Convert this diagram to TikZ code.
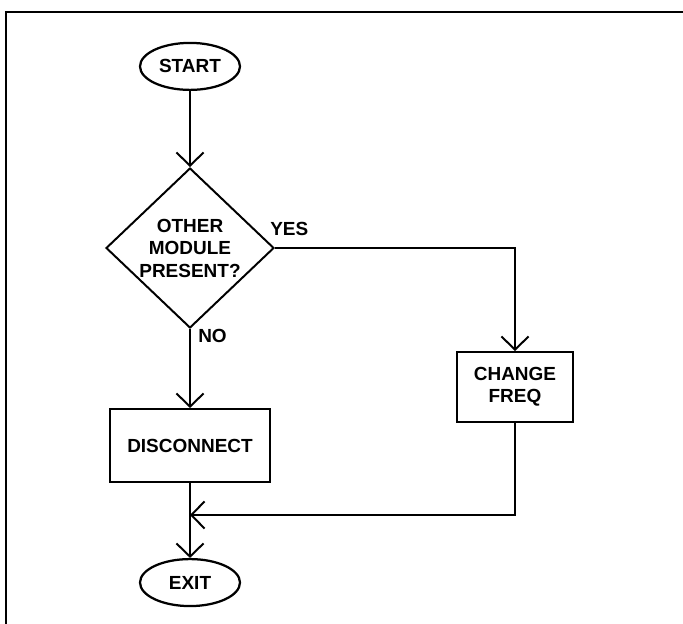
\documentclass[tikz,border=0pt]{standalone}
\usepackage{fontspec}
\setmainfont{Liberation Sans}
\usetikzlibrary{arrows.meta,positioning,shapes.geometric}

\begin{document}
\begin{tikzpicture}[
    term/.style={
      ellipse, draw, line width=1.6pt, minimum width=2.5cm, minimum height=1.175cm,
      inner sep=0pt, font=\fontsize{13.5}{15}\selectfont\bfseries
    },
    test/.style={
      diamond, draw, line width=1.4pt, minimum width=4.2cm, minimum height=4cm,
      inner sep=0pt, align=center, font=\fontsize{13.5}{16}\selectfont\bfseries
    },
    proc/.style={
      rectangle, draw, line width=1.4pt, align=center,
      font=\fontsize{13.5}{16}\selectfont\bfseries
    },
    lbl/.style={inner sep=0pt, font=\fontsize{13.5}{16}\selectfont\bfseries},
    arrow/.style={-{Straight Barb[length=0.33cm,width=0.68cm]}, line width=1.4pt}
  ]
    \useasboundingbox (0,0) rectangle (17.075,-15.6);
    \draw[line width=1pt] (0.125,-0.3) -- (17.075,-0.3);
    \draw[line width=1pt] (0.15,-0.3) -- (0.15,-15.6);
    \node[term] (start) at (4.75,-1.66) {START};
    \node[test, below=1.9cm of start] (check) {OTHER\\MODULE\\PRESENT?};
    \node[proc, minimum width=4cm, minimum height=1.825cm, below=1.975cm of check] (disc) {DISCONNECT};
    \node[term, below=1.875cm of disc] (exit) {EXIT};
    \node[proc, minimum width=2.9cm, minimum height=1.75cm] (chg) at (12.875,-9.675) {CHANGE\\FREQ};
    \coordinate (join) at (disc.south |- 0,-12.875);
    \draw[arrow] (start) -- (check);
    \draw[arrow] (check.east) -| (chg.north);
    \draw[arrow] (check.south) -- (disc.north);
    \draw[line width=1.4pt] (disc.south) -- (join);
    \draw[arrow] (join) -- (exit.north);
    \draw[arrow] (chg.south) |- (join);
    \node[lbl, anchor=south west] (yes) at ([xshift=-0.125cm,yshift=0.3cm]check.east) {YES};
    \node[lbl, anchor=north west] (no) at ([xshift=0.2cm]check.south) {NO};
  \end{tikzpicture}
\end{document}
